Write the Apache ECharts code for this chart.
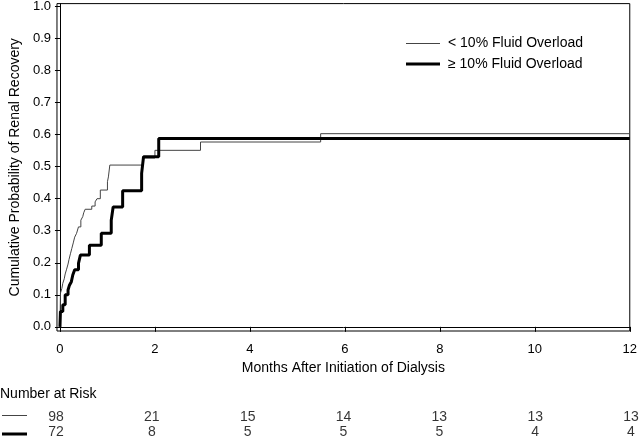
<!DOCTYPE html>
<html><head><meta charset="utf-8">
<script src="https://cdn.jsdelivr.net/npm/echarts@6/dist/echarts.min.js"></script>
<style>html,body{margin:0;padding:0;background:#fff}#c{width:640px;height:439px}</style>
</head><body><div id="c"></div>
<script>
const seriesNames = ['< 10% Fluid Overload', '\u2265 10% Fluid Overload'];
const lowTimes  = [0, 0.01, 0.04, 0.06, 0.09, 0.11, 0.14, 0.17, 0.19, 0.22, 0.25, 0.28, 0.31, 0.35, 0.39, 0.44, 0.48, 0.50, 0.53, 0.67, 0.74, 0.78, 0.85, 1.00, 1.02, 1.05, 1.75, 2.00, 2.96, 5.49, 12];
const lowValues = [0, 0.105, 0.12, 0.136, 0.15, 0.165, 0.18, 0.196, 0.21, 0.228, 0.245, 0.262, 0.28, 0.292, 0.312, 0.333, 0.344, 0.356, 0.367, 0.377, 0.39, 0.40, 0.427, 0.453, 0.468, 0.505, 0.527, 0.551, 0.577, 0.603, 0.603];
const highTimes  = [0, 0.01, 0.06, 0.11, 0.17, 0.20, 0.24, 0.27, 0.31, 0.39, 0.43, 0.62, 0.87, 1.08, 1.12, 1.32, 1.72, 1.76, 2.08, 12];
const highValues = [0, 0.048, 0.069, 0.10, 0.115, 0.13, 0.141, 0.162, 0.178, 0.198, 0.224, 0.255, 0.292, 0.333, 0.374, 0.425, 0.479, 0.531, 0.588, 0.588];
const xTickValues = [0, 2, 4, 6, 8, 10, 12];
const yTickValues = [0, 0.1, 0.2, 0.3, 0.4, 0.5, 0.6, 0.7, 0.8, 0.9, 1.0];
const riskMonths = [0, 2, 4, 6, 8, 10, 12];
const riskLow  = [98, 21, 15, 14, 13, 13, 13];
const riskHigh = [72, 8, 5, 5, 5, 4, 4];
const riskTitle = 'Number at Risk';
const xTitle = 'Months After Initiation of Dialysis';
const yTitle = 'Cumulative Probability of Renal Recovery';

const FONT = 'Liberation Sans, Arial, sans-serif';
const TXT = '#000';
const THIN = '#444';
const chart = echarts.init(document.getElementById('c'), null, {renderer: 'canvas'});
const riskSeries = (vals, row) => ({
  type: 'scatter', xAxisIndex: 1, yAxisIndex: 1, symbolSize: 1,
  itemStyle: {color: 'rgba(0,0,0,0)'}, silent: true,
  data: riskMonths.map((m, i) => [m, row, vals[i]]),
  label: {show: true, position: 'inside', offset: [-2, 0], formatter: p => String(p.value[2]),
          fontSize: 14, fontFamily: FONT, color: TXT}
});
chart.setOption({
  animation: false,
  textStyle: {fontFamily: FONT},
  grid: [
    {left: 55, right: 7, top: 3, bottom: 108, show: true, borderColor: '#000', borderWidth: 1},
    {left: 55, right: 7, top: 410, height: 38}
  ],
  xAxis: [
    {type: 'value', min: -0.063, max: 12, gridIndex: 0,
     axisLine: {show: true, lineStyle: {color: '#000', width: 1}},
     axisTick: {show: true, length: 5, customValues: xTickValues, lineStyle: {color: '#000'}},
     axisLabel: {customValues: xTickValues, fontSize: 13, color: TXT, margin: 12, fontFamily: FONT},
     splitLine: {show: false},
     name: xTitle, nameLocation: 'middle', nameGap: 30,
     nameTextStyle: {fontSize: 14, color: TXT, fontFamily: FONT}},
    {type: 'value', min: -0.063, max: 12, gridIndex: 1, show: false}
  ],
  yAxis: [
    {type: 'value', min: -0.013, max: 1.009, gridIndex: 0,
     axisLine: {show: true, lineStyle: {color: '#000', width: 1}},
     axisTick: {show: true, length: 5, customValues: yTickValues, lineStyle: {color: '#000'}},
     axisLabel: {customValues: yTickValues, formatter: v => v.toFixed(1), fontSize: 13, color: TXT, margin: 6, fontFamily: FONT},
     splitLine: {show: false},
     name: yTitle, nameLocation: 'middle', nameGap: 34,
     nameTextStyle: {fontSize: 14, color: TXT, fontFamily: FONT}},
    {type: 'category', gridIndex: 1, data: ['low', 'high'], inverse: true, show: false}
  ],
  series: [
    {name: seriesNames[0], type: 'line', step: 'end', symbol: 'none',
     lineStyle: {color: THIN, width: 1}, itemStyle: {color: THIN},
     data: lowTimes.map((t, i) => [t, lowValues[i]])},
    {name: seriesNames[1], type: 'line', step: 'end', symbol: 'none',
     lineStyle: {color: '#000', width: 3}, itemStyle: {color: '#000'},
     data: highTimes.map((t, i) => [t, highValues[i]])},
    riskSeries(riskLow, 0),
    riskSeries(riskHigh, 1)
  ],
  graphic: [
    {type: 'line', shape: {x1: 406, y1: 43.5, x2: 440, y2: 43.5}, style: {stroke: THIN, lineWidth: 1}},
    {type: 'text', x: 448, y: 43, style: {text: seriesNames[0], fontSize: 14, fill: TXT, fontFamily: FONT, verticalAlign: 'middle'}},
    {type: 'line', shape: {x1: 406, y1: 64, x2: 440, y2: 64}, style: {stroke: '#000', lineWidth: 3}},
    {type: 'text', x: 448, y: 64, style: {text: seriesNames[1], fontSize: 14, fill: TXT, fontFamily: FONT, verticalAlign: 'middle'}},
    {type: 'text', x: 0, y: 394, style: {text: riskTitle, fontSize: 14, fill: TXT, fontFamily: FONT, verticalAlign: 'middle'}},
    {type: 'line', shape: {x1: 2, y1: 415.5, x2: 27, y2: 415.5}, style: {stroke: THIN, lineWidth: 1}},
    {type: 'line', shape: {x1: 2, y1: 434, x2: 27, y2: 434}, style: {stroke: '#000', lineWidth: 3}}
  ]
});
</script></body></html>
